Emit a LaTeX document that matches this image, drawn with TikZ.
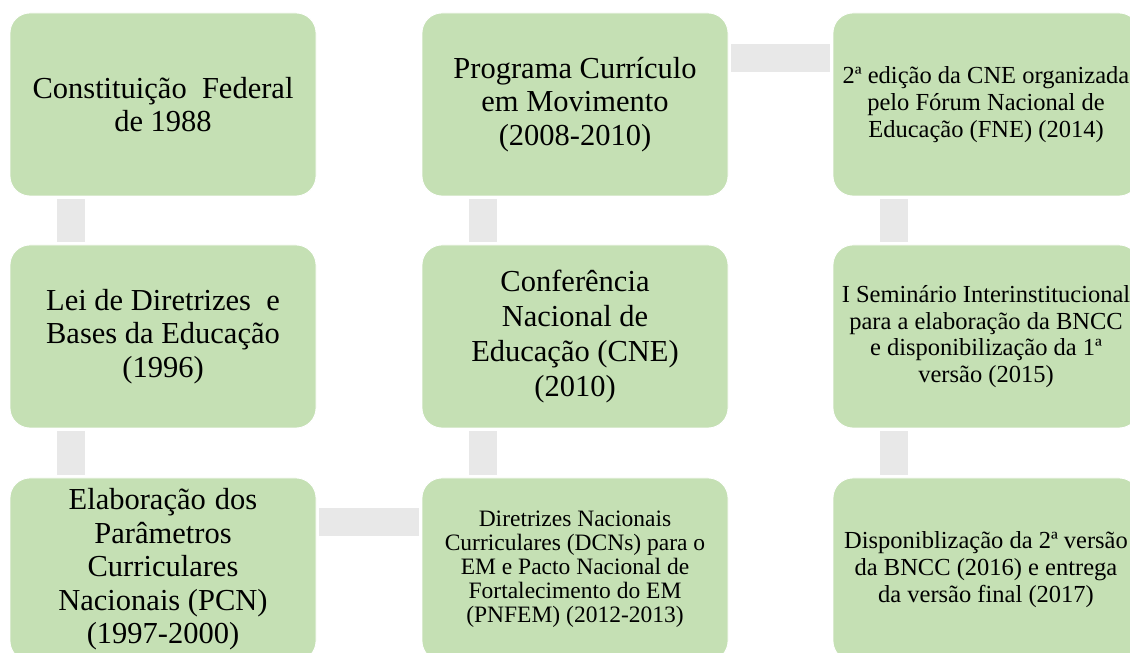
\documentclass[tikz,border=0pt]{standalone}
\usepackage{fontspec}
\setmainfont{Liberation Serif}
\definecolor{boxgreen}{HTML}{C5E0B4}
\definecolor{conngray}{HTML}{E8E8E8}
\begin{document}
\begin{tikzpicture}[x=1pt,y=1pt,
  evbox/.style={rectangle, rounded corners=20pt, fill=boxgreen, draw=white, line width=0.8pt,
    minimum width=306pt, minimum height=183pt, inner sep=0pt, align=center, text=black},
  bigtxt/.style={font=\fontsize{30.5}{33.5}\selectfont},
  midtxt/.style={font=\fontsize{24.5}{26.7}\selectfont},
  smalltxt/.style={font=\fontsize{23.5}{24}\selectfont},
  conn/.style={draw=conngray, line width=28pt, line cap=butt}]
\useasboundingbox (0,0) rectangle (1130,653);
\clip (0,0) rectangle (1130,653);
% column 1
\node[evbox,bigtxt] (cf) at (163,548.5) {Constituição\hspace{0.5em}Federal\\de 1988};
\node[evbox,bigtxt] (ldb) at (163,316.5) {Lei de Diretrizes\hspace{0.5em}e\\Bases da Educação\\(1996)};
\node[evbox,bigtxt] (pcn) at (163,83.5) {Elaboração\hspace{0.3em}dos\\Parâmetros\\Curriculares\\Nacionais (PCN)\\(1997-2000)};
% column 2
\node[evbox,bigtxt] (prog) at (575,548.5) {Programa Currículo\\em Movimento\\(2008-2010)};
\node[evbox,font=\fontsize{30.5}{35}\selectfont] (conf) at (575,316.5) {Conferência\\Nacional de\\Educação (CNE)\\(2010)};
\node[evbox,smalltxt] (dcn) at (575,83.5) {Diretrizes Nacionais\\Curriculares (DCNs) para o\\EM e Pacto Nacional de\\Fortalecimento do EM\\(PNFEM) (2012-2013)};
% column 3
\node[evbox,midtxt] (fne) at (986,548.5) {2ª edição da CNE organizada\\pelo Fórum Nacional de\\Educação (FNE) (2014)};
\node[evbox,midtxt] (sem) at (986,316.5) {I Seminário Interinstitucional\\para a elaboração da BNCC\\e disponibilização da 1ª\\versão (2015)};
\node[evbox,midtxt] (bncc) at (986,83.5) {Disponiblização da 2ª versão\\da BNCC (2016) e entrega\\da versão final (2017)};
% connectors
\draw[conn] ([shift={(61,-3)}]cf.south west) -- ([shift={(61,3)}]ldb.north west);
\draw[conn] ([shift={(61,-3)}]ldb.south west) -- ([shift={(61,3)}]pcn.north west);
\draw[conn] ([shift={(3,-44)}]pcn.north east) -- ([shift={(-3,-44)}]dcn.north west);
\draw[conn] ([shift={(61,3)}]dcn.north west) -- ([shift={(61,-3)}]conf.south west);
\draw[conn] ([shift={(61,3)}]conf.north west) -- ([shift={(61,-3)}]prog.south west);
\draw[conn] ([shift={(3,-45)}]prog.north east) -- ([shift={(-3,-45)}]fne.north west);
\draw[conn] ([shift={(61,-3)}]fne.south west) -- ([shift={(61,3)}]sem.north west);
\draw[conn] ([shift={(61,-3)}]sem.south west) -- ([shift={(61,3)}]bncc.north west);
\end{tikzpicture}
\end{document}
